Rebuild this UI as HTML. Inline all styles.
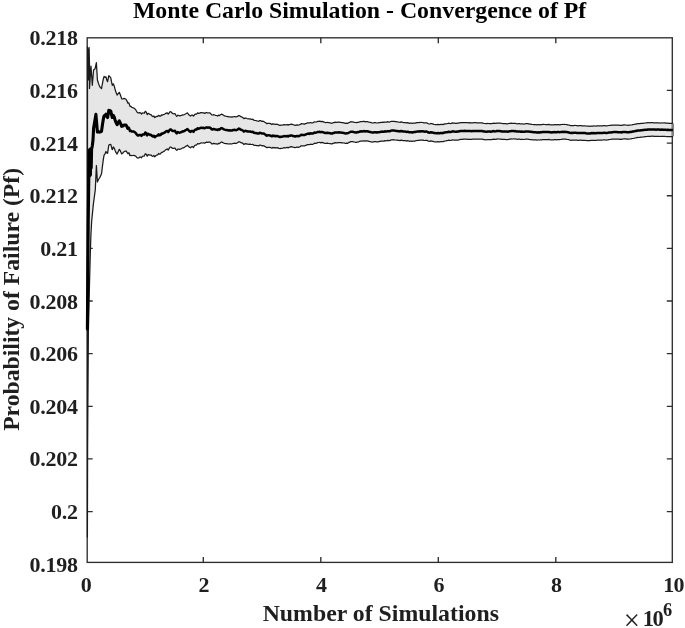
<!DOCTYPE html>
<html lang="en"><head><meta charset="utf-8"><title>Monte Carlo Simulation - Convergence of Pf</title>
<style>html,body{margin:0;padding:0;background:#fff}body{width:685px;height:628px;overflow:hidden}svg{display:block}</style></head>
<body>
<svg width="685" height="628" viewBox="0 0 685 628">
<rect width="685" height="628" fill="#fff"/>
<g stroke="#2e2e2e" stroke-width="1.35" fill="none">
<rect x="87.2" y="37.8" width="585.1" height="524.6"/>
<path d="M203.3 562.4v-5.5M203.3 37.8v5.5"/>
<path d="M320.8 562.4v-5.5M320.8 37.8v5.5"/>
<path d="M438.3 562.4v-5.5M438.3 37.8v5.5"/>
<path d="M555.8 562.4v-5.5M555.8 37.8v5.5"/>
<path d="M87.2 90.4h5.5M672.3 90.4h-5.5"/>
<path d="M87.2 143.1h5.5M672.3 143.1h-5.5"/>
<path d="M87.2 195.7h5.5M672.3 195.7h-5.5"/>
<path d="M87.2 248.3h5.5M672.3 248.3h-5.5"/>
<path d="M87.2 301.0h5.5M672.3 301.0h-5.5"/>
<path d="M87.2 353.6h5.5M672.3 353.6h-5.5"/>
<path d="M87.2 406.3h5.5M672.3 406.3h-5.5"/>
<path d="M87.2 458.9h5.5M672.3 458.9h-5.5"/>
<path d="M87.2 511.6h5.5M672.3 511.6h-5.5"/>
</g>
<polygon points="87.5,46.8 88.0,62.0 88.3,80.0 88.7,50.0 89.1,47.5 89.6,70.0 89.5,88.5 91.0,66.2 92.3,85.3 93.6,70.0 95.1,68.7 96.4,62.7 97.4,80.0 98.5,83.5 99.6,86.4 100.5,87.6 101.5,88.6 102.5,83.1 103.4,78.6 104.1,76.5 105.0,77.3 106.0,76.9 106.8,80.0 107.6,81.7 108.8,75.6 109.6,76.4 110.8,77.8 111.5,81.7 112.3,85.3 113.3,83.8 114.3,86.3 115.0,89.0 115.8,91.8 117.1,95.1 118.2,93.7 119.3,92.3 120.5,95.3 121.7,98.9 122.8,99.0 124.0,98.4 125.1,98.8 126.0,99.2 127.0,101.1 127.9,103.2 128.9,102.9 130.0,106.3 130.9,106.4 131.8,107.3 132.8,107.7 133.8,108.0 134.7,108.7 135.7,109.8 136.7,111.5 137.6,112.7 138.6,113.0 139.5,112.6 140.5,112.8 141.5,114.0 142.4,112.9 143.4,113.0 144.3,113.3 145.3,111.3 146.3,112.3 147.2,114.5 148.2,113.3 149.1,113.8 150.1,114.6 151.0,114.6 152.0,115.9 152.9,116.6 153.9,116.0 154.8,117.6 155.8,116.8 156.8,116.4 157.7,116.3 158.7,115.3 159.6,116.2 160.6,116.2 161.5,114.9 162.4,115.2 163.4,114.5 164.4,114.4 165.3,113.6 166.3,113.1 167.3,112.9 168.2,114.2 169.2,112.8 170.1,111.7 171.1,111.9 172.1,113.1 173.0,113.6 173.9,113.8 174.9,113.5 175.9,115.3 176.8,116.4 177.8,115.2 178.7,115.5 179.7,115.9 180.6,115.6 181.6,115.4 182.6,114.8 183.5,115.0 184.5,114.5 185.4,114.0 186.4,113.5 187.4,112.9 188.4,114.2 189.4,115.2 190.5,116.0 191.5,115.2 192.5,115.2 193.5,116.1 194.5,114.6 195.6,114.0 196.6,114.1 197.6,112.9 198.6,113.4 199.7,113.2 200.7,112.6 201.7,112.7 202.7,112.9 203.7,112.9 204.7,113.4 205.7,112.9 206.7,112.5 207.7,113.0 208.7,112.9 209.7,112.8 210.7,113.7 211.7,114.8 212.6,115.0 213.6,114.7 214.6,115.0 215.6,115.3 216.6,115.5 217.6,116.0 218.5,115.2 219.5,115.6 220.4,114.8 221.4,114.2 222.5,114.6 223.5,115.3 224.6,115.9 225.7,116.2 226.7,116.4 227.8,116.6 228.8,116.9 229.8,116.8 230.8,116.9 231.8,117.2 232.8,116.8 233.8,116.7 234.8,116.5 235.9,117.0 236.9,116.7 237.9,116.1 238.9,115.5 239.9,115.9 240.9,116.7 241.9,117.0 242.9,117.6 243.9,118.7 244.9,118.1 245.9,118.0 246.9,118.5 247.9,118.8 248.9,118.9 249.9,118.8 250.9,119.1 251.8,119.3 252.8,119.2 253.8,120.2 254.8,120.4 255.8,120.5 256.8,120.8 257.8,121.0 258.8,121.3 259.8,120.6 260.8,120.7 261.8,121.4 262.8,121.2 263.8,121.5 264.8,122.2 265.8,122.8 266.8,123.7 267.8,123.3 268.8,123.3 269.8,123.4 270.9,123.9 271.9,124.5 272.9,123.7 273.9,124.3 274.9,124.0 275.9,124.5 276.9,124.2 278.0,124.5 279.0,125.2 280.0,125.4 281.0,125.2 282.0,125.1 283.0,124.9 284.0,124.6 285.0,124.8 286.1,124.9 287.1,124.5 288.1,125.1 289.1,124.5 290.1,124.5 291.1,124.1 292.1,124.3 293.1,124.7 294.1,125.0 295.1,125.4 296.1,125.1 297.1,124.8 298.1,125.1 299.1,125.0 300.2,124.4 301.2,123.7 302.3,123.9 303.4,123.9 304.4,124.1 305.5,123.6 306.5,123.4 307.5,122.8 308.5,122.8 309.4,123.0 310.4,122.5 311.4,122.8 312.4,122.8 313.4,122.6 314.5,121.8 315.5,122.0 316.6,121.8 317.7,121.4 318.7,121.3 319.8,121.2 320.9,121.6 321.9,121.3 323.0,121.7 324.1,122.1 325.1,122.5 326.2,122.5 327.2,122.3 328.2,122.6 329.2,122.7 330.1,122.8 331.1,123.3 332.1,123.2 333.1,122.7 334.1,122.6 335.1,122.1 336.0,122.3 337.0,122.4 337.9,122.2 338.9,122.1 339.9,122.3 340.8,122.3 341.8,122.6 342.7,122.6 343.7,122.8 344.7,123.1 345.7,123.4 346.7,123.1 347.7,123.3 348.7,122.7 349.7,122.3 350.7,121.7 351.7,121.9 352.6,121.8 353.6,122.1 354.5,122.3 355.5,122.5 356.4,122.7 357.4,122.3 358.3,122.4 359.3,122.0 360.2,121.7 361.2,121.5 362.2,121.6 363.2,121.4 364.2,121.4 365.2,121.8 366.2,121.5 367.2,121.5 368.2,121.9 369.2,122.2 370.2,122.4 371.3,122.7 372.4,123.0 373.4,122.9 374.4,122.7 375.5,122.7 376.6,123.0 377.8,122.9 378.9,122.7 380.0,122.6 381.0,122.3 381.9,122.4 382.9,122.2 383.8,122.4 384.8,122.0 385.8,122.1 386.7,122.1 387.7,121.7 388.6,122.0 389.6,122.0 390.6,121.5 391.5,121.3 392.5,121.4 393.4,121.3 394.4,121.4 395.3,121.6 396.2,121.7 397.2,121.8 398.2,122.0 399.1,122.2 400.1,122.3 401.1,121.9 402.2,122.2 403.2,122.5 404.2,122.5 405.2,122.5 406.2,122.9 407.2,122.6 408.3,122.8 409.3,123.4 410.3,123.2 411.2,123.2 412.2,123.4 413.2,123.2 414.1,123.2 415.1,123.2 416.0,122.9 416.9,122.7 417.9,122.6 418.9,122.6 419.8,122.4 420.8,122.5 421.8,122.4 422.8,122.5 423.8,122.8 424.8,122.9 425.8,122.9 426.8,122.8 427.8,123.5 428.8,123.8 429.8,124.0 430.8,123.5 431.8,123.7 432.8,123.9 433.9,124.3 434.9,124.5 435.9,124.5 436.9,124.7 437.9,124.4 438.9,124.7 439.9,124.6 440.9,124.3 441.9,124.4 442.9,124.6 443.9,124.2 444.9,123.9 445.9,123.8 446.9,123.7 447.8,123.5 448.8,123.2 449.8,123.5 450.7,123.6 451.6,123.2 452.6,122.9 453.5,123.1 454.5,123.2 455.4,123.4 456.4,123.4 457.4,123.2 458.4,123.2 459.5,122.8 460.5,122.7 461.5,122.7 462.5,122.7 463.5,122.6 464.5,122.5 465.6,122.6 466.6,122.6 467.6,122.7 468.6,122.8 469.7,122.7 470.7,122.9 471.7,122.9 472.8,122.8 473.8,122.7 474.8,122.7 475.9,122.7 476.9,122.8 477.9,122.8 479.0,122.9 480.0,122.9 481.0,122.8 482.0,122.9 482.9,123.2 483.9,123.4 484.9,123.5 485.9,123.6 486.8,123.6 487.8,123.4 488.8,123.5 489.8,123.5 490.7,123.7 491.7,123.6 492.7,123.3 493.7,123.1 494.7,123.4 495.8,123.3 496.8,123.1 497.8,123.0 498.8,123.1 499.8,123.2 500.8,123.2 501.9,123.5 502.9,123.6 503.9,123.6 504.8,123.6 505.8,123.7 506.8,123.8 507.7,123.8 508.6,123.5 509.6,123.4 510.5,123.4 511.5,123.2 512.4,123.3 513.4,123.3 514.4,123.4 515.5,123.3 516.5,123.6 517.5,123.8 518.5,123.7 519.6,123.6 520.6,124.0 521.6,123.9 522.7,123.9 523.7,124.0 524.7,124.0 525.7,123.7 526.8,123.7 527.8,123.7 528.8,123.9 529.8,124.1 530.8,124.2 531.8,124.4 532.8,124.5 533.8,124.6 534.8,124.7 535.8,124.7 536.7,124.8 537.7,124.7 538.7,124.7 539.7,124.8 540.7,124.6 541.7,124.6 542.7,124.4 543.7,124.3 544.7,124.5 545.7,124.6 546.7,124.6 547.7,124.6 548.7,124.4 549.7,124.7 550.7,124.8 551.7,124.9 552.6,124.8 553.6,124.8 554.6,124.6 555.6,124.7 556.6,124.9 557.6,124.6 558.6,124.7 559.6,124.8 560.6,124.6 561.6,124.5 562.7,124.4 563.7,124.5 564.7,124.4 565.7,124.5 566.7,124.6 567.8,124.8 568.8,125.0 569.8,125.3 570.8,125.6 571.8,125.5 572.9,125.5 573.9,125.5 574.9,125.4 575.9,125.5 576.9,125.6 578.0,125.8 579.0,125.7 580.0,125.6 581.0,125.7 582.0,125.8 583.0,125.8 584.0,125.9 585.0,125.9 586.0,126.0 587.0,126.2 588.0,126.2 588.9,126.2 589.9,126.3 590.9,126.0 591.9,126.0 592.9,126.1 593.9,125.9 594.9,126.0 595.9,126.1 596.9,125.9 597.9,125.9 598.9,125.8 599.9,125.9 600.9,125.9 601.9,125.9 602.9,125.8 603.8,125.7 604.8,125.7 605.8,125.8 606.8,125.8 607.8,125.7 608.8,125.5 609.8,125.4 610.8,125.3 611.8,125.2 612.8,125.1 613.8,125.0 614.8,125.0 615.8,125.0 616.8,125.0 617.8,125.2 618.8,125.2 619.8,125.3 620.8,125.3 621.8,125.4 622.8,125.1 623.8,124.9 624.8,124.9 625.8,125.0 626.8,125.2 627.8,125.3 628.8,125.2 629.8,125.1 630.8,125.0 631.8,124.9 632.8,124.7 633.9,124.5 634.9,124.2 635.9,124.2 636.9,123.8 637.9,123.7 638.9,123.7 639.9,123.6 640.9,123.4 642.0,123.4 643.0,123.3 644.0,123.1 645.0,123.0 646.0,122.9 646.9,122.9 647.9,122.7 648.8,122.7 649.8,122.8 650.7,122.7 651.7,122.6 652.8,122.6 653.9,122.8 655.0,122.8 656.0,122.9 657.0,122.8 657.9,122.8 658.9,122.8 659.9,123.0 660.8,123.0 661.8,122.9 662.8,123.0 663.8,122.9 664.8,122.9 665.8,123.1 666.8,123.2 667.8,123.1 668.9,123.3 669.9,123.3 670.9,123.4 671.9,123.3 672.9,123.2 674.0,123.2 674.0,136.6 672.9,136.6 671.9,136.6 670.9,136.7 669.9,136.7 668.9,136.7 667.8,136.5 666.8,136.6 665.8,136.5 664.8,136.4 663.8,136.4 662.8,136.4 661.8,136.4 660.8,136.4 659.9,136.5 658.9,136.3 657.9,136.3 657.0,136.4 656.0,136.4 655.0,136.4 653.9,136.4 652.8,136.2 651.7,136.2 650.7,136.3 649.8,136.4 648.8,136.4 647.9,136.3 646.9,136.5 646.0,136.6 645.0,136.6 644.0,136.8 643.0,137.0 642.0,137.1 640.9,137.2 639.9,137.3 638.9,137.5 637.9,137.4 636.9,137.6 635.9,137.9 634.9,138.0 633.9,138.3 632.8,138.5 631.8,138.7 630.8,138.9 629.8,139.0 628.8,139.1 627.8,139.1 626.8,139.1 625.8,138.9 624.8,138.9 623.8,138.9 622.8,139.0 621.8,139.3 620.8,139.2 619.8,139.3 618.8,139.2 617.8,139.2 616.8,139.0 615.8,139.1 614.8,139.1 613.8,139.1 612.8,139.2 611.8,139.2 610.8,139.4 609.8,139.5 608.8,139.6 607.8,139.8 606.8,140.0 605.8,140.0 604.8,139.9 603.8,139.9 602.9,140.0 601.9,140.1 600.9,140.2 599.9,140.1 598.9,140.1 597.9,140.2 596.9,140.2 595.9,140.5 594.9,140.4 593.9,140.3 592.9,140.4 591.9,140.3 590.9,140.4 589.9,140.7 588.9,140.6 588.0,140.7 587.0,140.6 586.0,140.5 585.0,140.3 584.0,140.4 583.0,140.3 582.0,140.3 581.0,140.2 580.0,140.2 579.0,140.3 578.0,140.4 576.9,140.2 575.9,140.1 574.9,140.1 573.9,140.1 572.9,140.2 571.8,140.2 570.8,140.3 569.8,140.0 568.8,139.7 567.8,139.5 566.7,139.4 565.7,139.2 564.7,139.1 563.7,139.2 562.7,139.2 561.6,139.3 560.6,139.5 559.6,139.6 558.6,139.5 557.6,139.5 556.6,139.8 555.6,139.6 554.6,139.5 553.6,139.8 552.6,139.8 551.7,139.9 550.7,139.8 549.7,139.7 548.7,139.4 547.7,139.6 546.7,139.6 545.7,139.6 544.7,139.5 543.7,139.5 542.7,139.5 541.7,139.8 540.7,139.8 539.7,140.0 538.7,139.9 537.7,140.0 536.7,140.1 535.8,139.9 534.8,139.9 533.8,139.9 532.8,139.8 531.8,139.7 530.8,139.5 529.8,139.5 528.8,139.3 527.8,139.1 526.8,139.1 525.7,139.2 524.7,139.4 523.7,139.5 522.7,139.4 521.6,139.3 520.6,139.5 519.6,139.1 518.5,139.2 517.5,139.3 516.5,139.2 515.5,138.9 514.4,139.0 513.4,138.9 512.4,139.0 511.5,138.9 510.5,139.1 509.6,139.1 508.6,139.3 507.7,139.5 506.8,139.5 505.8,139.5 504.8,139.4 503.9,139.4 502.9,139.4 501.9,139.3 500.8,139.1 499.8,139.1 498.8,139.0 497.8,138.9 496.8,139.1 495.8,139.3 494.7,139.4 493.7,139.1 492.7,139.3 491.7,139.7 490.7,139.7 489.8,139.5 488.8,139.6 487.8,139.5 486.8,139.7 485.9,139.8 484.9,139.6 483.9,139.6 482.9,139.4 482.0,139.2 481.0,139.0 480.0,139.1 479.0,139.2 477.9,139.1 476.9,139.1 475.9,139.1 474.8,139.1 473.8,139.1 472.8,139.2 471.7,139.4 470.7,139.4 469.7,139.3 468.6,139.3 467.6,139.3 466.6,139.2 465.6,139.2 464.5,139.1 463.5,139.2 462.5,139.4 461.5,139.3 460.5,139.4 459.5,139.6 458.4,140.0 457.4,140.0 456.4,140.2 455.4,140.2 454.5,140.0 453.5,140.0 452.6,139.8 451.6,140.2 450.7,140.5 449.8,140.4 448.8,140.2 447.8,140.5 446.9,140.7 445.9,140.9 444.9,141.0 443.9,141.3 442.9,141.7 441.9,141.6 440.9,141.5 439.9,141.8 438.9,141.9 437.9,141.7 436.9,142.0 435.9,141.8 434.9,141.8 433.9,141.6 432.8,141.3 431.8,141.1 430.8,140.9 429.8,141.4 428.8,141.2 427.8,140.9 426.8,140.3 425.8,140.4 424.8,140.5 423.8,140.4 422.8,140.1 421.8,140.1 420.8,140.2 419.8,140.2 418.9,140.3 417.9,140.4 416.9,140.5 416.0,140.7 415.1,141.0 414.1,141.0 413.2,141.1 412.2,141.3 411.2,141.1 410.3,141.2 409.3,141.3 408.3,140.8 407.2,140.7 406.2,141.0 405.2,140.6 404.2,140.6 403.2,140.7 402.2,140.4 401.1,140.2 400.1,140.6 399.1,140.4 398.2,140.3 397.2,140.1 396.2,140.1 395.3,140.0 394.4,139.9 393.4,139.7 392.5,139.9 391.5,139.9 390.6,140.1 389.6,140.6 388.6,140.6 387.7,140.4 386.7,140.7 385.8,140.8 384.8,140.7 383.8,141.1 382.9,141.0 381.9,141.2 381.0,141.2 380.0,141.4 378.9,141.6 377.8,141.8 376.6,141.9 375.5,141.7 374.4,141.7 373.4,141.9 372.4,142.1 371.3,141.9 370.2,141.6 369.2,141.4 368.2,141.1 367.2,140.8 366.2,140.9 365.2,141.2 364.2,140.8 363.2,140.9 362.2,141.1 361.2,141.1 360.2,141.2 359.3,141.5 358.3,142.0 357.4,142.0 356.4,142.3 355.5,142.3 354.5,142.0 353.6,141.9 352.6,141.6 351.7,141.7 350.7,141.6 349.7,142.2 348.7,142.6 347.7,143.3 346.7,143.2 345.7,143.5 344.7,143.2 343.7,143.0 342.7,142.8 341.8,142.9 340.8,142.6 339.9,142.6 338.9,142.5 337.9,142.6 337.0,142.8 336.0,142.8 335.1,142.6 334.1,143.2 333.1,143.3 332.1,143.9 331.1,143.9 330.1,143.5 329.2,143.5 328.2,143.4 327.2,143.2 326.2,143.3 325.1,143.4 324.1,143.1 323.0,142.7 321.9,142.4 320.9,142.8 319.8,142.4 318.7,142.5 317.7,142.6 316.6,143.1 315.5,143.4 314.5,143.2 313.4,144.0 312.4,144.4 311.4,144.3 310.4,144.2 309.4,144.7 308.5,144.5 307.5,144.5 306.5,145.1 305.5,145.4 304.4,146.0 303.4,145.8 302.3,145.9 301.2,145.8 300.2,146.6 299.1,147.2 298.1,147.4 297.1,147.0 296.1,147.4 295.1,147.7 294.1,147.4 293.1,147.2 292.1,146.9 291.1,146.7 290.1,147.1 289.1,147.2 288.1,147.9 287.1,147.3 286.1,147.8 285.0,147.8 284.0,147.6 283.0,148.0 282.0,148.3 281.0,148.3 280.0,148.6 279.0,148.5 278.0,147.9 276.9,147.7 275.9,148.0 274.9,147.6 273.9,147.9 272.9,147.4 271.9,148.2 270.9,147.7 269.8,147.3 268.8,147.3 267.8,147.3 266.8,147.7 265.8,146.9 264.8,146.4 263.8,145.8 262.8,145.6 261.8,145.8 260.8,145.2 259.8,145.1 258.8,145.9 257.8,145.7 256.8,145.6 255.8,145.4 254.8,145.4 253.8,145.2 252.8,144.3 251.8,144.5 250.9,144.4 249.9,144.1 248.9,144.3 247.9,144.2 246.9,144.1 245.9,143.6 244.9,143.8 243.9,144.5 242.9,143.4 241.9,142.9 240.9,142.7 239.9,142.0 238.9,141.7 237.9,142.4 236.9,143.1 235.9,143.5 234.8,143.1 233.8,143.3 232.8,143.5 231.8,144.0 230.8,143.8 229.8,143.8 228.8,144.0 227.8,143.8 226.7,143.7 225.7,143.6 224.6,143.4 223.5,143.0 222.5,142.4 221.4,142.0 220.4,142.7 219.5,143.7 218.5,143.4 217.6,144.2 216.6,143.9 215.6,143.8 214.6,143.6 213.6,143.4 212.6,143.8 211.7,143.8 210.7,142.7 209.7,142.0 208.7,142.1 207.7,142.4 206.7,142.1 205.7,142.5 204.7,143.2 203.7,142.8 202.7,143.0 201.7,142.9 200.7,143.0 199.7,143.7 198.6,143.9 197.6,143.6 196.6,145.0 195.6,145.0 194.5,145.7 193.5,147.5 192.5,146.6 191.5,146.8 190.5,147.8 189.4,147.2 188.4,146.3 187.4,145.2 186.4,145.9 185.4,146.6 184.5,147.3 183.5,147.9 182.6,147.9 181.6,148.6 180.6,149.0 179.7,149.4 178.7,149.2 177.8,149.1 176.8,150.4 175.9,149.6 174.9,148.0 173.9,148.4 173.0,148.4 172.1,148.1 171.1,147.2 170.1,147.2 169.2,148.4 168.2,150.1 167.3,149.0 166.3,149.4 165.3,150.1 164.4,151.1 163.4,151.5 162.4,152.4 161.5,152.3 160.6,153.8 159.6,154.2 158.7,153.5 157.7,154.8 156.8,155.1 155.8,155.8 154.8,156.8 153.9,155.5 152.9,156.4 152.0,156.0 151.0,155.0 150.1,155.2 149.1,154.8 148.2,154.6 147.2,156.2 146.3,154.3 145.3,153.7 144.3,156.0 143.4,156.0 142.4,156.3 141.5,157.8 140.5,157.0 139.5,157.2 138.6,158.0 137.6,158.1 136.7,157.4 135.7,156.2 134.7,155.6 133.8,155.3 132.8,155.5 131.8,155.7 130.9,155.2 130.0,155.7 128.9,152.8 127.9,153.8 127.0,152.3 126.0,151.0 125.1,151.2 124.0,151.7 122.8,153.1 121.7,153.9 120.5,151.2 119.3,149.3 118.2,151.7 117.1,154.1 115.8,152.2 115.0,150.3 114.3,148.3 113.3,147.0 112.3,149.7 111.5,147.2 110.8,144.4 109.6,144.6 108.8,145.2 107.6,153.3 106.8,153.0 106.0,151.5 105.0,153.8 104.1,155.1 103.4,158.8 102.5,165.8 101.5,174.0 100.5,176.0 99.6,178.0 98.5,179.5 97.4,182.0 96.4,165.5 95.3,189.6 93.4,203.9 91.6,222.0 90.9,235.0 90.4,250.0 89.6,280.0 88.4,330.0 87.9,400.0 87.6,450.0 87.4,537.0" fill="#e6e6e6"/>
<path d="M672.7 123.5V136.3" stroke="#808080" stroke-width="2.6" fill="none"/>
<polyline points="672.9,123.2 671.9,123.3 670.9,123.4 669.9,123.3 668.9,123.3 667.8,123.1 666.8,123.2 665.8,123.1 664.8,122.9 663.8,122.9 662.8,123.0 661.8,122.9 660.8,123.0 659.9,123.0 658.9,122.8 657.9,122.8 657.0,122.8 656.0,122.9 655.0,122.8 653.9,122.8 652.8,122.6 651.7,122.6 650.7,122.7 649.8,122.8 648.8,122.7 647.9,122.7 646.9,122.9 646.0,122.9 645.0,123.0 644.0,123.1 643.0,123.3 642.0,123.4 640.9,123.4 639.9,123.6 638.9,123.7 637.9,123.7 636.9,123.8 635.9,124.2 634.9,124.2 633.9,124.5 632.8,124.7 631.8,124.9 630.8,125.0 629.8,125.1 628.8,125.2 627.8,125.3 626.8,125.2 625.8,125.0 624.8,124.9 623.8,124.9 622.8,125.1 621.8,125.4 620.8,125.3 619.8,125.3 618.8,125.2 617.8,125.2 616.8,125.0 615.8,125.0 614.8,125.0 613.8,125.0 612.8,125.1 611.8,125.2 610.8,125.3 609.8,125.4 608.8,125.5 607.8,125.7 606.8,125.8 605.8,125.8 604.8,125.7 603.8,125.7 602.9,125.8 601.9,125.9 600.9,125.9 599.9,125.9 598.9,125.8 597.9,125.9 596.9,125.9 595.9,126.1 594.9,126.0 593.9,125.9 592.9,126.1 591.9,126.0 590.9,126.0 589.9,126.3 588.9,126.2 588.0,126.2 587.0,126.2 586.0,126.0 585.0,125.9 584.0,125.9 583.0,125.8 582.0,125.8 581.0,125.7 580.0,125.6 579.0,125.7 578.0,125.8 576.9,125.6 575.9,125.5 574.9,125.4 573.9,125.5 572.9,125.5 571.8,125.5 570.8,125.6 569.8,125.3 568.8,125.0 567.8,124.8 566.7,124.6 565.7,124.5 564.7,124.4 563.7,124.5 562.7,124.4 561.6,124.5 560.6,124.6 559.6,124.8 558.6,124.7 557.6,124.6 556.6,124.9 555.6,124.7 554.6,124.6 553.6,124.8 552.6,124.8 551.7,124.9 550.7,124.8 549.7,124.7 548.7,124.4 547.7,124.6 546.7,124.6 545.7,124.6 544.7,124.5 543.7,124.3 542.7,124.4 541.7,124.6 540.7,124.6 539.7,124.8 538.7,124.7 537.7,124.7 536.7,124.8 535.8,124.7 534.8,124.7 533.8,124.6 532.8,124.5 531.8,124.4 530.8,124.2 529.8,124.1 528.8,123.9 527.8,123.7 526.8,123.7 525.7,123.7 524.7,124.0 523.7,124.0 522.7,123.9 521.6,123.9 520.6,124.0 519.6,123.6 518.5,123.7 517.5,123.8 516.5,123.6 515.5,123.3 514.4,123.4 513.4,123.3 512.4,123.3 511.5,123.2 510.5,123.4 509.6,123.4 508.6,123.5 507.7,123.8 506.8,123.8 505.8,123.7 504.8,123.6 503.9,123.6 502.9,123.6 501.9,123.5 500.8,123.2 499.8,123.2 498.8,123.1 497.8,123.0 496.8,123.1 495.8,123.3 494.7,123.4 493.7,123.1 492.7,123.3 491.7,123.6 490.7,123.7 489.8,123.5 488.8,123.5 487.8,123.4 486.8,123.6 485.9,123.6 484.9,123.5 483.9,123.4 482.9,123.2 482.0,122.9 481.0,122.8 480.0,122.9 479.0,122.9 477.9,122.8 476.9,122.8 475.9,122.7 474.8,122.7 473.8,122.7 472.8,122.8 471.7,122.9 470.7,122.9 469.7,122.7 468.6,122.8 467.6,122.7 466.6,122.6 465.6,122.6 464.5,122.5 463.5,122.6 462.5,122.7 461.5,122.7 460.5,122.7 459.5,122.8 458.4,123.2 457.4,123.2 456.4,123.4 455.4,123.4 454.5,123.2 453.5,123.1 452.6,122.9 451.6,123.2 450.7,123.6 449.8,123.5 448.8,123.2 447.8,123.5 446.9,123.7 445.9,123.8 444.9,123.9 443.9,124.2 442.9,124.6 441.9,124.4 440.9,124.3 439.9,124.6 438.9,124.7 437.9,124.4 436.9,124.7 435.9,124.5 434.9,124.5 433.9,124.3 432.8,123.9 431.8,123.7 430.8,123.5 429.8,124.0 428.8,123.8 427.8,123.5 426.8,122.8 425.8,122.9 424.8,122.9 423.8,122.8 422.8,122.5 421.8,122.4 420.8,122.5 419.8,122.4 418.9,122.6 417.9,122.6 416.9,122.7 416.0,122.9 415.1,123.2 414.1,123.2 413.2,123.2 412.2,123.4 411.2,123.2 410.3,123.2 409.3,123.4 408.3,122.8 407.2,122.6 406.2,122.9 405.2,122.5 404.2,122.5 403.2,122.5 402.2,122.2 401.1,121.9 400.1,122.3 399.1,122.2 398.2,122.0 397.2,121.8 396.2,121.7 395.3,121.6 394.4,121.4 393.4,121.3 392.5,121.4 391.5,121.3 390.6,121.5 389.6,122.0 388.6,122.0 387.7,121.7 386.7,122.1 385.8,122.1 384.8,122.0 383.8,122.4 382.9,122.2 381.9,122.4 381.0,122.3 380.0,122.6 378.9,122.7 377.8,122.9 376.6,123.0 375.5,122.7 374.4,122.7 373.4,122.9 372.4,123.0 371.3,122.7 370.2,122.4 369.2,122.2 368.2,121.9 367.2,121.5 366.2,121.5 365.2,121.8 364.2,121.4 363.2,121.4 362.2,121.6 361.2,121.5 360.2,121.7 359.3,122.0 358.3,122.4 357.4,122.3 356.4,122.7 355.5,122.5 354.5,122.3 353.6,122.1 352.6,121.8 351.7,121.9 350.7,121.7 349.7,122.3 348.7,122.7 347.7,123.3 346.7,123.1 345.7,123.4 344.7,123.1 343.7,122.8 342.7,122.6 341.8,122.6 340.8,122.3 339.9,122.3 338.9,122.1 337.9,122.2 337.0,122.4 336.0,122.3 335.1,122.1 334.1,122.6 333.1,122.7 332.1,123.2 331.1,123.3 330.1,122.8 329.2,122.7 328.2,122.6 327.2,122.3 326.2,122.5 325.1,122.5 324.1,122.1 323.0,121.7 321.9,121.3 320.9,121.6 319.8,121.2 318.7,121.3 317.7,121.4 316.6,121.8 315.5,122.0 314.5,121.8 313.4,122.6 312.4,122.8 311.4,122.8 310.4,122.5 309.4,123.0 308.5,122.8 307.5,122.8 306.5,123.4 305.5,123.6 304.4,124.1 303.4,123.9 302.3,123.9 301.2,123.7 300.2,124.4 299.1,125.0 298.1,125.1 297.1,124.8 296.1,125.1 295.1,125.4 294.1,125.0 293.1,124.7 292.1,124.3 291.1,124.1 290.1,124.5 289.1,124.5 288.1,125.1 287.1,124.5 286.1,124.9 285.0,124.8 284.0,124.6 283.0,124.9 282.0,125.1 281.0,125.2 280.0,125.4 279.0,125.2 278.0,124.5 276.9,124.2 275.9,124.5 274.9,124.0 273.9,124.3 272.9,123.7 271.9,124.5 270.9,123.9 269.8,123.4 268.8,123.3 267.8,123.3 266.8,123.7 265.8,122.8 264.8,122.2 263.8,121.5 262.8,121.2 261.8,121.4 260.8,120.7 259.8,120.6 258.8,121.3 257.8,121.0 256.8,120.8 255.8,120.5 254.8,120.4 253.8,120.2 252.8,119.2 251.8,119.3 250.9,119.1 249.9,118.8 248.9,118.9 247.9,118.8 246.9,118.5 245.9,118.0 244.9,118.1 243.9,118.7 242.9,117.6 241.9,117.0 240.9,116.7 239.9,115.9 238.9,115.5 237.9,116.1 236.9,116.7 235.9,117.0 234.8,116.5 233.8,116.7 232.8,116.8 231.8,117.2 230.8,116.9 229.8,116.8 228.8,116.9 227.8,116.6 226.7,116.4 225.7,116.2 224.6,115.9 223.5,115.3 222.5,114.6 221.4,114.2 220.4,114.8 219.5,115.6 218.5,115.2 217.6,116.0 216.6,115.5 215.6,115.3 214.6,115.0 213.6,114.7 212.6,115.0 211.7,114.8 210.7,113.7 209.7,112.8 208.7,112.9 207.7,113.0 206.7,112.5 205.7,112.9 204.7,113.4 203.7,112.9 202.7,112.9 201.7,112.7 200.7,112.6 199.7,113.2 198.6,113.4 197.6,112.9 196.6,114.1 195.6,114.0 194.5,114.6 193.5,116.1 192.5,115.2 191.5,115.2 190.5,116.0 189.4,115.2 188.4,114.2 187.4,112.9 186.4,113.5 185.4,114.0 184.5,114.5 183.5,115.0 182.6,114.8 181.6,115.4 180.6,115.6 179.7,115.9 178.7,115.5 177.8,115.2 176.8,116.4 175.9,115.3 174.9,113.5 173.9,113.8 173.0,113.6 172.1,113.1 171.1,111.9 170.1,111.7 169.2,112.8 168.2,114.2 167.3,112.9 166.3,113.1 165.3,113.6 164.4,114.4 163.4,114.5 162.4,115.2 161.5,114.9 160.6,116.2 159.6,116.2 158.7,115.3 157.7,116.3 156.8,116.4 155.8,116.8 154.8,117.6 153.9,116.0 152.9,116.6 152.0,115.9 151.0,114.6 150.1,114.6 149.1,113.8 148.2,113.3 147.2,114.5 146.3,112.3 145.3,111.3 144.3,113.3 143.4,113.0 142.4,112.9 141.5,114.0 140.5,112.8 139.5,112.6 138.6,113.0 137.6,112.7 136.7,111.5 135.7,109.8 134.7,108.7 133.8,108.0 132.8,107.7 131.8,107.3 130.9,106.4 130.0,106.3 128.9,102.9 127.9,103.2 127.0,101.1 126.0,99.2 125.1,98.8 124.0,98.4 122.8,99.0 121.7,98.9 120.5,95.3 119.3,92.3 118.2,93.7 117.1,95.1 115.8,91.8 115.0,89.0 114.3,86.3 113.3,83.8 112.3,85.3 111.5,81.7 110.8,77.8 109.6,76.4 108.8,75.6 107.6,81.7 106.8,80.0 106.0,76.9 105.0,77.3 104.1,76.5 103.4,78.6 102.5,83.1 101.5,88.6 100.5,87.6 99.6,86.4 98.5,83.5 97.4,80.0 96.4,62.7 95.1,68.7 93.6,70.0 92.3,85.3 91.0,66.2 89.5,88.5 89.6,70.0 89.1,47.5 88.7,50.0 88.3,80.0 88.0,62.0 87.5,46.8 87.4,537.0 87.6,450.0 87.9,400.0 88.4,330.0 89.6,280.0 90.4,250.0 90.9,235.0 91.6,222.0 93.4,203.9 95.3,189.6 96.4,165.5 97.4,182.0 98.5,179.5 99.6,178.0 100.5,176.0 101.5,174.0 102.5,165.8 103.4,158.8 104.1,155.1 105.0,153.8 106.0,151.5 106.8,153.0 107.6,153.3 108.8,145.2 109.6,144.6 110.8,144.4 111.5,147.2 112.3,149.7 113.3,147.0 114.3,148.3 115.0,150.3 115.8,152.2 117.1,154.1 118.2,151.7 119.3,149.3 120.5,151.2 121.7,153.9 122.8,153.1 124.0,151.7 125.1,151.2 126.0,151.0 127.0,152.3 127.9,153.8 128.9,152.8 130.0,155.7 130.9,155.2 131.8,155.7 132.8,155.5 133.8,155.3 134.7,155.6 135.7,156.2 136.7,157.4 137.6,158.1 138.6,158.0 139.5,157.2 140.5,157.0 141.5,157.8 142.4,156.3 143.4,156.0 144.3,156.0 145.3,153.7 146.3,154.3 147.2,156.2 148.2,154.6 149.1,154.8 150.1,155.2 151.0,155.0 152.0,156.0 152.9,156.4 153.9,155.5 154.8,156.8 155.8,155.8 156.8,155.1 157.7,154.8 158.7,153.5 159.6,154.2 160.6,153.8 161.5,152.3 162.4,152.4 163.4,151.5 164.4,151.1 165.3,150.1 166.3,149.4 167.3,149.0 168.2,150.1 169.2,148.4 170.1,147.2 171.1,147.2 172.1,148.1 173.0,148.4 173.9,148.4 174.9,148.0 175.9,149.6 176.8,150.4 177.8,149.1 178.7,149.2 179.7,149.4 180.6,149.0 181.6,148.6 182.6,147.9 183.5,147.9 184.5,147.3 185.4,146.6 186.4,145.9 187.4,145.2 188.4,146.3 189.4,147.2 190.5,147.8 191.5,146.8 192.5,146.6 193.5,147.5 194.5,145.7 195.6,145.0 196.6,145.0 197.6,143.6 198.6,143.9 199.7,143.7 200.7,143.0 201.7,142.9 202.7,143.0 203.7,142.8 204.7,143.2 205.7,142.5 206.7,142.1 207.7,142.4 208.7,142.1 209.7,142.0 210.7,142.7 211.7,143.8 212.6,143.8 213.6,143.4 214.6,143.6 215.6,143.8 216.6,143.9 217.6,144.2 218.5,143.4 219.5,143.7 220.4,142.7 221.4,142.0 222.5,142.4 223.5,143.0 224.6,143.4 225.7,143.6 226.7,143.7 227.8,143.8 228.8,144.0 229.8,143.8 230.8,143.8 231.8,144.0 232.8,143.5 233.8,143.3 234.8,143.1 235.9,143.5 236.9,143.1 237.9,142.4 238.9,141.7 239.9,142.0 240.9,142.7 241.9,142.9 242.9,143.4 243.9,144.5 244.9,143.8 245.9,143.6 246.9,144.1 247.9,144.2 248.9,144.3 249.9,144.1 250.9,144.4 251.8,144.5 252.8,144.3 253.8,145.2 254.8,145.4 255.8,145.4 256.8,145.6 257.8,145.7 258.8,145.9 259.8,145.1 260.8,145.2 261.8,145.8 262.8,145.6 263.8,145.8 264.8,146.4 265.8,146.9 266.8,147.7 267.8,147.3 268.8,147.3 269.8,147.3 270.9,147.7 271.9,148.2 272.9,147.4 273.9,147.9 274.9,147.6 275.9,148.0 276.9,147.7 278.0,147.9 279.0,148.5 280.0,148.6 281.0,148.3 282.0,148.3 283.0,148.0 284.0,147.6 285.0,147.8 286.1,147.8 287.1,147.3 288.1,147.9 289.1,147.2 290.1,147.1 291.1,146.7 292.1,146.9 293.1,147.2 294.1,147.4 295.1,147.7 296.1,147.4 297.1,147.0 298.1,147.4 299.1,147.2 300.2,146.6 301.2,145.8 302.3,145.9 303.4,145.8 304.4,146.0 305.5,145.4 306.5,145.1 307.5,144.5 308.5,144.5 309.4,144.7 310.4,144.2 311.4,144.3 312.4,144.4 313.4,144.0 314.5,143.2 315.5,143.4 316.6,143.1 317.7,142.6 318.7,142.5 319.8,142.4 320.9,142.8 321.9,142.4 323.0,142.7 324.1,143.1 325.1,143.4 326.2,143.3 327.2,143.2 328.2,143.4 329.2,143.5 330.1,143.5 331.1,143.9 332.1,143.9 333.1,143.3 334.1,143.2 335.1,142.6 336.0,142.8 337.0,142.8 337.9,142.6 338.9,142.5 339.9,142.6 340.8,142.6 341.8,142.9 342.7,142.8 343.7,143.0 344.7,143.2 345.7,143.5 346.7,143.2 347.7,143.3 348.7,142.6 349.7,142.2 350.7,141.6 351.7,141.7 352.6,141.6 353.6,141.9 354.5,142.0 355.5,142.3 356.4,142.3 357.4,142.0 358.3,142.0 359.3,141.5 360.2,141.2 361.2,141.1 362.2,141.1 363.2,140.9 364.2,140.8 365.2,141.2 366.2,140.9 367.2,140.8 368.2,141.1 369.2,141.4 370.2,141.6 371.3,141.9 372.4,142.1 373.4,141.9 374.4,141.7 375.5,141.7 376.6,141.9 377.8,141.8 378.9,141.6 380.0,141.4 381.0,141.2 381.9,141.2 382.9,141.0 383.8,141.1 384.8,140.7 385.8,140.8 386.7,140.7 387.7,140.4 388.6,140.6 389.6,140.6 390.6,140.1 391.5,139.9 392.5,139.9 393.4,139.7 394.4,139.9 395.3,140.0 396.2,140.1 397.2,140.1 398.2,140.3 399.1,140.4 400.1,140.6 401.1,140.2 402.2,140.4 403.2,140.7 404.2,140.6 405.2,140.6 406.2,141.0 407.2,140.7 408.3,140.8 409.3,141.3 410.3,141.2 411.2,141.1 412.2,141.3 413.2,141.1 414.1,141.0 415.1,141.0 416.0,140.7 416.9,140.5 417.9,140.4 418.9,140.3 419.8,140.2 420.8,140.2 421.8,140.1 422.8,140.1 423.8,140.4 424.8,140.5 425.8,140.4 426.8,140.3 427.8,140.9 428.8,141.2 429.8,141.4 430.8,140.9 431.8,141.1 432.8,141.3 433.9,141.6 434.9,141.8 435.9,141.8 436.9,142.0 437.9,141.7 438.9,141.9 439.9,141.8 440.9,141.5 441.9,141.6 442.9,141.7 443.9,141.3 444.9,141.0 445.9,140.9 446.9,140.7 447.8,140.5 448.8,140.2 449.8,140.4 450.7,140.5 451.6,140.2 452.6,139.8 453.5,140.0 454.5,140.0 455.4,140.2 456.4,140.2 457.4,140.0 458.4,140.0 459.5,139.6 460.5,139.4 461.5,139.3 462.5,139.4 463.5,139.2 464.5,139.1 465.6,139.2 466.6,139.2 467.6,139.3 468.6,139.3 469.7,139.3 470.7,139.4 471.7,139.4 472.8,139.2 473.8,139.1 474.8,139.1 475.9,139.1 476.9,139.1 477.9,139.1 479.0,139.2 480.0,139.1 481.0,139.0 482.0,139.2 482.9,139.4 483.9,139.6 484.9,139.6 485.9,139.8 486.8,139.7 487.8,139.5 488.8,139.6 489.8,139.5 490.7,139.7 491.7,139.7 492.7,139.3 493.7,139.1 494.7,139.4 495.8,139.3 496.8,139.1 497.8,138.9 498.8,139.0 499.8,139.1 500.8,139.1 501.9,139.3 502.9,139.4 503.9,139.4 504.8,139.4 505.8,139.5 506.8,139.5 507.7,139.5 508.6,139.3 509.6,139.1 510.5,139.1 511.5,138.9 512.4,139.0 513.4,138.9 514.4,139.0 515.5,138.9 516.5,139.2 517.5,139.3 518.5,139.2 519.6,139.1 520.6,139.5 521.6,139.3 522.7,139.4 523.7,139.5 524.7,139.4 525.7,139.2 526.8,139.1 527.8,139.1 528.8,139.3 529.8,139.5 530.8,139.5 531.8,139.7 532.8,139.8 533.8,139.9 534.8,139.9 535.8,139.9 536.7,140.1 537.7,140.0 538.7,139.9 539.7,140.0 540.7,139.8 541.7,139.8 542.7,139.5 543.7,139.5 544.7,139.5 545.7,139.6 546.7,139.6 547.7,139.6 548.7,139.4 549.7,139.7 550.7,139.8 551.7,139.9 552.6,139.8 553.6,139.8 554.6,139.5 555.6,139.6 556.6,139.8 557.6,139.5 558.6,139.5 559.6,139.6 560.6,139.5 561.6,139.3 562.7,139.2 563.7,139.2 564.7,139.1 565.7,139.2 566.7,139.4 567.8,139.5 568.8,139.7 569.8,140.0 570.8,140.3 571.8,140.2 572.9,140.2 573.9,140.1 574.9,140.1 575.9,140.1 576.9,140.2 578.0,140.4 579.0,140.3 580.0,140.2 581.0,140.2 582.0,140.3 583.0,140.3 584.0,140.4 585.0,140.3 586.0,140.5 587.0,140.6 588.0,140.7 588.9,140.6 589.9,140.7 590.9,140.4 591.9,140.3 592.9,140.4 593.9,140.3 594.9,140.4 595.9,140.5 596.9,140.2 597.9,140.2 598.9,140.1 599.9,140.1 600.9,140.2 601.9,140.1 602.9,140.0 603.8,139.9 604.8,139.9 605.8,140.0 606.8,140.0 607.8,139.8 608.8,139.6 609.8,139.5 610.8,139.4 611.8,139.2 612.8,139.2 613.8,139.1 614.8,139.1 615.8,139.1 616.8,139.0 617.8,139.2 618.8,139.2 619.8,139.3 620.8,139.2 621.8,139.3 622.8,139.0 623.8,138.9 624.8,138.9 625.8,138.9 626.8,139.1 627.8,139.1 628.8,139.1 629.8,139.0 630.8,138.9 631.8,138.7 632.8,138.5 633.9,138.3 634.9,138.0 635.9,137.9 636.9,137.6 637.9,137.4 638.9,137.5 639.9,137.3 640.9,137.2 642.0,137.1 643.0,137.0 644.0,136.8 645.0,136.6 646.0,136.6 646.9,136.5 647.9,136.3 648.8,136.4 649.8,136.4 650.7,136.3 651.7,136.2 652.8,136.2 653.9,136.4 655.0,136.4 656.0,136.4 657.0,136.4 657.9,136.3 658.9,136.3 659.9,136.5 660.8,136.4 661.8,136.4 662.8,136.4 663.8,136.4 664.8,136.4 665.8,136.5 666.8,136.6 667.8,136.5 668.9,136.7 669.9,136.7 670.9,136.7 671.9,136.6 672.9,136.6" fill="none" stroke="#1a1a1a" stroke-width="1.25" stroke-linejoin="round"/>
<polyline points="87.4,329.0 87.6,300.0 87.9,260.0 88.2,226.0 88.5,200.0 88.8,178.0 89.3,150.0 89.6,176.0 90.0,149.0 90.4,175.0 90.8,149.0 91.2,168.0 91.6,149.0 92.3,146.0 93.0,140.0 93.6,128.2 95.9,114.4 97.4,132.0 98.5,131.5 99.6,132.2 100.5,131.8 101.5,131.3 102.5,124.4 103.4,118.7 104.1,115.8 105.0,115.6 106.0,114.2 106.8,116.5 107.6,117.5 108.8,110.4 109.6,110.5 110.8,111.1 111.5,114.5 112.3,117.5 113.3,115.4 114.3,117.3 115.0,119.7 115.8,122.0 117.1,124.6 118.2,122.7 119.3,120.8 120.5,123.3 121.7,126.4 122.8,126.0 124.0,125.0 125.1,125.0 126.0,125.1 127.0,126.7 127.9,128.5" fill="none" stroke="#000" stroke-width="3.1" stroke-linejoin="round" stroke-linecap="round"/>
<polyline points="127.9,128.5 128.9,127.8 130.0,131.0 130.9,130.8 131.8,131.5 132.8,131.6 133.8,131.6 134.7,132.1 135.7,133.0 136.7,134.4 137.6,135.4 138.6,135.5 139.5,134.9 140.5,134.9 141.5,135.9 142.4,134.6 143.4,134.5 144.3,134.6 145.3,132.5 146.3,133.3 147.2,135.4 148.2,133.9 149.1,134.3 150.1,134.9 151.0,134.8 152.0,135.9 152.9,136.5 153.9,135.7 154.8,137.2 155.8,136.3 156.8,135.7 157.7,135.6 158.7,134.4 159.6,135.2 160.6,135.0 161.5,133.6 162.4,133.8 163.4,133.0 164.4,132.8 165.3,131.9 166.3,131.2 167.3,130.9 168.2,132.1 169.2,130.6 170.1,129.4 171.1,129.6 172.1,130.6 173.0,131.0 173.9,131.1 174.9,130.7 175.9,132.5 176.8,133.4 177.8,132.1 178.7,132.4 179.7,132.7 180.6,132.3 181.6,132.0 182.6,131.3 183.5,131.4 184.5,130.9 185.4,130.3 186.4,129.7 187.4,129.0 188.4,130.2 189.4,131.2 190.5,131.9 191.5,131.0 192.5,130.9 193.5,131.8 194.5,130.2 195.6,129.5 196.6,129.6 197.6,128.2 198.6,128.7 199.7,128.4 200.7,127.8 201.7,127.8 202.7,128.0 203.7,127.8 204.7,128.3 205.7,127.7 206.7,127.3 207.7,127.7 208.7,127.5 209.7,127.4 210.7,128.2 211.7,129.3 212.6,129.4 213.6,129.0 214.6,129.3 215.6,129.5 216.6,129.7 217.6,130.1 218.5,129.3 219.5,129.7 220.4,128.8 221.4,128.1 222.5,128.5 223.5,129.1 224.6,129.6 225.7,129.9 226.7,130.0 227.8,130.2 228.8,130.4 229.8,130.3 230.8,130.4 231.8,130.6 232.8,130.1 233.8,130.0 234.8,129.8 235.9,130.2 236.9,129.9 237.9,129.2 238.9,128.6 239.9,129.0 240.9,129.7 241.9,130.0 242.9,130.5 243.9,131.6 244.9,130.9 245.9,130.8 246.9,131.3 247.9,131.5 248.9,131.6 249.9,131.5 250.9,131.8 251.8,131.9 252.8,131.7 253.8,132.7 254.8,132.9 255.8,133.0 256.8,133.2 257.8,133.4 258.8,133.6 259.8,132.8 260.8,132.9 261.8,133.6 262.8,133.4 263.8,133.6 264.8,134.3 265.8,134.9 266.8,135.7 267.8,135.3 268.8,135.3 269.8,135.4 270.9,135.8 271.9,136.3 272.9,135.5 273.9,136.1 274.9,135.8 275.9,136.3 276.9,135.9 278.0,136.2 279.0,136.8 280.0,137.0 281.0,136.7 282.0,136.7 283.0,136.4 284.0,136.1 285.0,136.3 286.1,136.3 287.1,135.9 288.1,136.5 289.1,135.8 290.1,135.8 291.1,135.4 292.1,135.6 293.1,136.0 294.1,136.2 295.1,136.6 296.1,136.2 297.1,135.9 298.1,136.3 299.1,136.1 300.2,135.5 301.2,134.8 302.3,134.9 303.4,134.9 304.4,135.1 305.5,134.5 306.5,134.3 307.5,133.7 308.5,133.6 309.4,133.9 310.4,133.3 311.4,133.6 312.4,133.6 313.4,133.3 314.5,132.5 315.5,132.7 316.6,132.4 317.7,132.0 318.7,131.9 319.8,131.8 320.9,132.2 321.9,131.9 323.0,132.2 324.1,132.6 325.1,133.0 326.2,132.9 327.2,132.7 328.2,133.0 329.2,133.1 330.1,133.2 331.1,133.6 332.1,133.6 333.1,133.0 334.1,132.9 335.1,132.4 336.0,132.5 337.0,132.6 337.9,132.4 338.9,132.3 339.9,132.5 340.8,132.5 341.8,132.7 342.7,132.7 343.7,132.9 344.7,133.2 345.7,133.4 346.7,133.2 347.7,133.3 348.7,132.7 349.7,132.3 350.7,131.7 351.7,131.8 352.6,131.7 353.6,132.0 354.5,132.2 355.5,132.4 356.4,132.5 357.4,132.1 358.3,132.2 359.3,131.8 360.2,131.5 361.2,131.3 362.2,131.4 363.2,131.2 364.2,131.1 365.2,131.5 366.2,131.2 367.2,131.2 368.2,131.5 369.2,131.8 370.2,132.0 371.3,132.3 372.4,132.5 373.4,132.4 374.4,132.2 375.5,132.2 376.6,132.5 377.8,132.3 378.9,132.2 380.0,132.0 381.0,131.7 381.9,131.8 382.9,131.6 383.8,131.8 384.8,131.3 385.8,131.5 386.7,131.4 387.7,131.1 388.6,131.3 389.6,131.3 390.6,130.8 391.5,130.6 392.5,130.6 393.4,130.5 394.4,130.6 395.3,130.8 396.2,130.9 397.2,130.9 398.2,131.2 399.1,131.3 400.1,131.4 401.1,131.0 402.2,131.3 403.2,131.6 404.2,131.6 405.2,131.5 406.2,132.0 407.2,131.7 408.3,131.8 409.3,132.3 410.3,132.2 411.2,132.2 412.2,132.4 413.2,132.2 414.1,132.1 415.1,132.1 416.0,131.8 416.9,131.6 417.9,131.5 418.9,131.5 419.8,131.3 420.8,131.4 421.8,131.3 422.8,131.3 423.8,131.6 424.8,131.7 425.8,131.6 426.8,131.6 427.8,132.2 428.8,132.5 429.8,132.7 430.8,132.2 431.8,132.4 432.8,132.6 433.9,133.0 434.9,133.1 435.9,133.2 436.9,133.3 437.9,133.0 438.9,133.3 439.9,133.2 440.9,132.9 441.9,133.0 442.9,133.2 443.9,132.7 444.9,132.4 445.9,132.3 446.9,132.2 447.8,132.0 448.8,131.7 449.8,132.0 450.7,132.0 451.6,131.7 452.6,131.3 453.5,131.5 454.5,131.6 455.4,131.8 456.4,131.8 457.4,131.6 458.4,131.6 459.5,131.2 460.5,131.0 461.5,131.0 462.5,131.1 463.5,130.9 464.5,130.8 465.6,130.9 466.6,130.9 467.6,131.0 468.6,131.0 469.7,131.0 470.7,131.1 471.7,131.2 472.8,131.0 473.8,130.9 474.8,130.9 475.9,130.9 476.9,131.0 477.9,131.0 479.0,131.0 480.0,131.0 481.0,130.9 482.0,131.1 482.9,131.3 483.9,131.5 484.9,131.6 485.9,131.7 486.8,131.7 487.8,131.4 488.8,131.6 489.8,131.5 490.7,131.7 491.7,131.6 492.7,131.3 493.7,131.1 494.7,131.4 495.8,131.3 496.8,131.1 497.8,131.0 498.8,131.1 499.8,131.1 500.8,131.2 501.9,131.4 502.9,131.5 503.9,131.5 504.8,131.5 505.8,131.6 506.8,131.6 507.7,131.7 508.6,131.4 509.6,131.3 510.5,131.2 511.5,131.1 512.4,131.1 513.4,131.1 514.4,131.2 515.5,131.1 516.5,131.4 517.5,131.5 518.5,131.4 519.6,131.4 520.6,131.7 521.6,131.6 522.7,131.7 523.7,131.8 524.7,131.7 525.7,131.4 526.8,131.4 527.8,131.4 528.8,131.6 529.8,131.8 530.8,131.8 531.8,132.0 532.8,132.1 533.8,132.2 534.8,132.3 535.8,132.3 536.7,132.5 537.7,132.4 538.7,132.3 539.7,132.4 540.7,132.2 541.7,132.2 542.7,131.9 543.7,131.9 544.7,132.0 545.7,132.1 546.7,132.1 547.7,132.1 548.7,131.9 549.7,132.2 550.7,132.3 551.7,132.4 552.6,132.3 553.6,132.3 554.6,132.1 555.6,132.2 556.6,132.3 557.6,132.1 558.6,132.1 559.6,132.2 560.6,132.1 561.6,131.9 562.7,131.8 563.7,131.9 564.7,131.8 565.7,131.9 566.7,132.0 567.8,132.2 568.8,132.4 569.8,132.7 570.8,132.9 571.8,132.8 572.9,132.9 573.9,132.8 574.9,132.8 575.9,132.8 576.9,132.9 578.0,133.1 579.0,133.0 580.0,132.9 581.0,133.0 582.0,133.0 583.0,133.1 584.0,133.1 585.0,133.1 586.0,133.3 587.0,133.4 588.0,133.4 588.9,133.4 589.9,133.5 590.9,133.2 591.9,133.1 592.9,133.2 593.9,133.1 594.9,133.2 595.9,133.3 596.9,133.1 597.9,133.0 598.9,133.0 599.9,133.0 600.9,133.1 601.9,133.0 602.9,132.9 603.8,132.8 604.8,132.8 605.8,132.9 606.8,132.9 607.8,132.8 608.8,132.6 609.8,132.5 610.8,132.4 611.8,132.2 612.8,132.2 613.8,132.1 614.8,132.0 615.8,132.1 616.8,132.0 617.8,132.2 618.8,132.2 619.8,132.3 620.8,132.2 621.8,132.4 622.8,132.0 623.8,131.9 624.8,131.9 625.8,131.9 626.8,132.2 627.8,132.2 628.8,132.2 629.8,132.0 630.8,132.0 631.8,131.8 632.8,131.6 633.9,131.4 634.9,131.1 635.9,131.0 636.9,130.7 637.9,130.5 638.9,130.6 639.9,130.4 640.9,130.3 642.0,130.3 643.0,130.1 644.0,129.9 645.0,129.8 646.0,129.7 646.9,129.7 647.9,129.5 648.8,129.6 649.8,129.6 650.7,129.5 651.7,129.4 652.8,129.4 653.9,129.6 655.0,129.6 656.0,129.7 657.0,129.6 657.9,129.5 658.9,129.6 659.9,129.7 660.8,129.7 661.8,129.6 662.8,129.7 663.8,129.7 664.8,129.7 665.8,129.8 666.8,129.9 667.8,129.8 668.9,130.0 669.9,130.0 670.9,130.0 671.9,129.9 672.9,129.9" fill="none" stroke="#000" stroke-width="2.5" stroke-linejoin="round" stroke-linecap="butt"/>
<g font-family="'Liberation Serif', serif" font-weight="bold" fill="#1f1f1f">
<text x="77.6" y="45.2" font-size="22" letter-spacing="-0.3" text-anchor="end">0.218</text>
<text x="77.6" y="97.9" font-size="22" letter-spacing="-0.3" text-anchor="end">0.216</text>
<text x="77.6" y="150.6" font-size="22" letter-spacing="-0.3" text-anchor="end">0.214</text>
<text x="77.6" y="203.2" font-size="22" letter-spacing="-0.3" text-anchor="end">0.212</text>
<text x="77.6" y="255.8" font-size="22" letter-spacing="-0.3" text-anchor="end">0.21</text>
<text x="77.6" y="308.5" font-size="22" letter-spacing="-0.3" text-anchor="end">0.208</text>
<text x="77.6" y="361.1" font-size="22" letter-spacing="-0.3" text-anchor="end">0.206</text>
<text x="77.6" y="413.8" font-size="22" letter-spacing="-0.3" text-anchor="end">0.204</text>
<text x="77.6" y="466.4" font-size="22" letter-spacing="-0.3" text-anchor="end">0.202</text>
<text x="77.6" y="519.1" font-size="22" letter-spacing="-0.3" text-anchor="end">0.2</text>
<text x="77.6" y="571.8" font-size="22" letter-spacing="-0.3" text-anchor="end">0.198</text>
<text x="86.3" y="592.4" font-size="22" text-anchor="middle">0</text>
<text x="203.9" y="592.4" font-size="22" text-anchor="middle">2</text>
<text x="321.4" y="592.4" font-size="22" text-anchor="middle">4</text>
<text x="438.9" y="592.4" font-size="22" text-anchor="middle">6</text>
<text x="556.4" y="592.4" font-size="22" text-anchor="middle">8</text>
<text x="663.2" y="592.4" font-size="22" letter-spacing="-0.8">10</text>
<text x="359.6" y="18.3" font-size="23.8" text-anchor="middle" fill="#000">Monte Carlo Simulation - Convergence of Pf</text>
<text x="380.8" y="621.3" font-size="23.8" text-anchor="middle">Number of Simulations</text>
<text transform="translate(18.5,299.4) rotate(-90)" font-size="23.7" text-anchor="middle">Probability of Failure (Pf)</text>
<text x="642.8" y="625.5" font-size="22.5" letter-spacing="-1.65">10<tspan x="663.1" y="615.9" font-size="18.4">6</tspan></text>
</g>
<text x="623.8" y="630.1" font-size="28.7" font-family="'Liberation Serif', serif" fill="#1f1f1f">×</text>
</svg>
</body></html>
